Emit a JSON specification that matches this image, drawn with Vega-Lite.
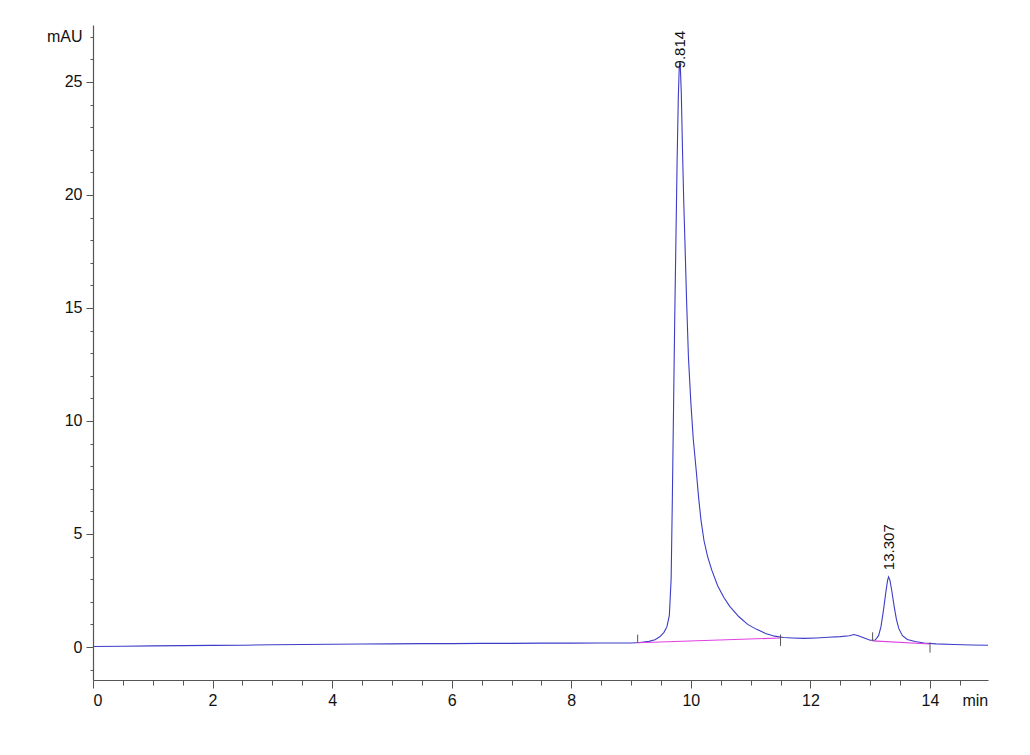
{
  "$schema": "https://vega.github.io/schema/vega-lite/v6.json",
  "width": 895,
  "height": 655,
  "autosize": "none",
  "padding": {"left": 93, "top": 25, "right": 42, "bottom": 75},
  "background": "white",
  "config": {
    "view": {"stroke": null},
    "axis": {"grid": false, "domainColor": "#555555", "tickColor": "#555555", "labelColor": "#111111", "labelFont": "Liberation Sans Narrow, Liberation Sans", "labelFontSize": 16, "title": null}
  },
  "datasets": {
    "signal": [
      {"t": 0, "v": 0.02}, {"t": 0.5, "v": 0.03}, {"t": 1, "v": 0.05}, {"t": 1.5, "v": 0.06},
      {"t": 2, "v": 0.07}, {"t": 2.5, "v": 0.08}, {"t": 3, "v": 0.1}, {"t": 3.5, "v": 0.11},
      {"t": 4, "v": 0.12}, {"t": 4.5, "v": 0.13}, {"t": 5, "v": 0.14}, {"t": 5.5, "v": 0.15},
      {"t": 6, "v": 0.15}, {"t": 6.5, "v": 0.16}, {"t": 7, "v": 0.16}, {"t": 7.5, "v": 0.17},
      {"t": 8, "v": 0.17}, {"t": 8.5, "v": 0.18}, {"t": 9.0, "v": 0.18}, {"t": 9.15, "v": 0.2},
      {"t": 9.3, "v": 0.25}, {"t": 9.4, "v": 0.32}, {"t": 9.48, "v": 0.45}, {"t": 9.55, "v": 0.65},
      {"t": 9.6, "v": 0.9}, {"t": 9.64, "v": 1.4}, {"t": 9.67, "v": 3.0}, {"t": 9.69, "v": 6.5},
      {"t": 9.71, "v": 10.5}, {"t": 9.73, "v": 14.5}, {"t": 9.75, "v": 18.0}, {"t": 9.77, "v": 21.5},
      {"t": 9.79, "v": 24.3}, {"t": 9.805, "v": 25.6}, {"t": 9.814, "v": 25.85}, {"t": 9.825, "v": 25.6},
      {"t": 9.84, "v": 24.5}, {"t": 9.86, "v": 22.0}, {"t": 9.88, "v": 19.8}, {"t": 9.9, "v": 18.0},
      {"t": 9.93, "v": 15.2}, {"t": 9.96, "v": 12.8}, {"t": 10.0, "v": 10.8}, {"t": 10.04, "v": 9.2},
      {"t": 10.09, "v": 7.8}, {"t": 10.13, "v": 6.6}, {"t": 10.17, "v": 5.6}, {"t": 10.22, "v": 4.7},
      {"t": 10.28, "v": 4.0}, {"t": 10.35, "v": 3.4}, {"t": 10.45, "v": 2.7}, {"t": 10.55, "v": 2.2},
      {"t": 10.65, "v": 1.8}, {"t": 10.8, "v": 1.35}, {"t": 10.95, "v": 1.0}, {"t": 11.1, "v": 0.78},
      {"t": 11.25, "v": 0.6}, {"t": 11.4, "v": 0.48}, {"t": 11.55, "v": 0.42}, {"t": 11.7, "v": 0.4},
      {"t": 11.9, "v": 0.38}, {"t": 12.1, "v": 0.4}, {"t": 12.3, "v": 0.43}, {"t": 12.5, "v": 0.46},
      {"t": 12.65, "v": 0.5}, {"t": 12.73, "v": 0.55}, {"t": 12.8, "v": 0.5}, {"t": 12.9, "v": 0.4},
      {"t": 13.0, "v": 0.3}, {"t": 13.08, "v": 0.3}, {"t": 13.14, "v": 0.5}, {"t": 13.18, "v": 0.9},
      {"t": 13.22, "v": 1.6}, {"t": 13.26, "v": 2.4}, {"t": 13.29, "v": 2.95}, {"t": 13.307, "v": 3.1},
      {"t": 13.33, "v": 2.95}, {"t": 13.36, "v": 2.5}, {"t": 13.4, "v": 1.8}, {"t": 13.44, "v": 1.2},
      {"t": 13.48, "v": 0.8}, {"t": 13.54, "v": 0.5}, {"t": 13.62, "v": 0.33}, {"t": 13.75, "v": 0.24},
      {"t": 13.9, "v": 0.18}, {"t": 14.1, "v": 0.14}, {"t": 14.4, "v": 0.11}, {"t": 14.7, "v": 0.09},
      {"t": 14.97, "v": 0.08}
    ],
    "baseline": [
      {"seg": "A", "t": 9.11, "v": 0.19}, {"seg": "A", "t": 11.5, "v": 0.4},
      {"seg": "B", "t": 13.04, "v": 0.27}, {"seg": "B", "t": 14.0, "v": 0.13}
    ],
    "marks": [
      {"t": 9.11, "v": 0.19, "v2": 0.55},
      {"t": 11.5, "v": 0.55, "v2": 0.05},
      {"t": 13.04, "v": 0.27, "v2": 0.65},
      {"t": 14.0, "v": 0.2, "v2": -0.25}
    ],
    "peaks": [
      {"t": 9.814, "ly": 25.6, "label": "9.814"},
      {"t": 13.307, "ly": 3.4, "label": "13.307"}
    ]
  },
  "layer": [
    {
      "data": {"name": "signal"},
      "mark": {"type": "line", "color": "#3c3cc8", "strokeWidth": 1.1, "clip": true},
      "encoding": {
        "x": {"field": "t", "type": "quantitative", "scale": {"domain": [0, 14.97], "nice": false, "zero": false},
          "axis": {"orient": "bottom", "values": [0, 2, 4, 6, 8, 10, 12, 14], "tickSize": 8, "labelPadding": 4, "domain": true, "domainWidth": 1.2}},
        "y": {"field": "v", "type": "quantitative", "scale": {"domain": [-1.46, 27.52], "nice": false, "zero": false},
          "axis": {"orient": "left", "values": [0, 5, 10, 15, 20, 25], "tickSize": 7, "labelPadding": 4, "domain": true, "domainWidth": 1.2}}
      }
    },
    {
      "data": {"name": "baseline"},
      "mark": {"type": "line", "color": "#e040e0", "strokeWidth": 1.1, "clip": true},
      "encoding": {
        "x": {"field": "t", "type": "quantitative",
          "axis": {"orient": "bottom", "values": [0.5, 1, 1.5, 2.5, 3, 3.5, 4.5, 5, 5.5, 6.5, 7, 7.5, 8.5, 9, 9.5, 10.5, 11, 11.5, 12.5, 13, 13.5, 14.5, 14.75], "tickSize": 5, "domain": false, "labelPadding": 7,
            "labelExpr": "datum.value > 14.7 ? 'min' : ''",
            "tickColor": {"condition": {"test": "datum.value > 14.7", "value": "transparent"}, "value": "#555555"}}},
        "y": {"field": "v", "type": "quantitative",
          "axis": {"orient": "left", "values": [-1, 1, 2, 3, 4, 6, 7, 8, 9, 11, 12, 13, 14, 16, 17, 18, 19, 21, 22, 23, 24, 26, 27], "tickSize": 3, "domain": false, "labelPadding": 8,
            "labelExpr": "datum.value == 27 ? 'mAU' : ''"}},
        "detail": {"field": "seg"}
      }
    },
    {
      "data": {"name": "marks"},
      "mark": {"type": "rule", "color": "#555555", "strokeWidth": 1},
      "encoding": {
        "x": {"field": "t", "type": "quantitative", "axis": null},
        "y": {"field": "v", "type": "quantitative", "axis": null},
        "y2": {"field": "v2"}
      }
    },
    {
      "data": {"name": "peaks"},
      "mark": {"type": "text", "angle": 270, "align": "left", "baseline": "middle", "font": "Liberation Sans Narrow, Liberation Sans", "fontSize": 15, "color": "#111111"},
      "encoding": {
        "x": {"field": "t", "type": "quantitative", "axis": null},
        "y": {"field": "ly", "type": "quantitative", "axis": null},
        "text": {"field": "label"}
      }
    }
  ],
  "resolve": {"axis": {"x": "independent", "y": "independent"}}
}
